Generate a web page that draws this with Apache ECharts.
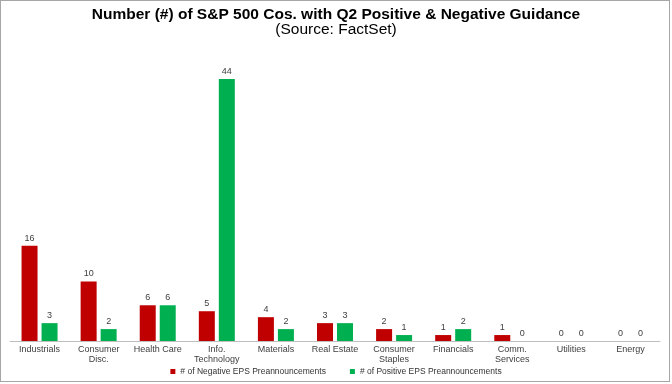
<!DOCTYPE html>
<html>
<head>
<meta charset="utf-8">
<script src="https://cdn.jsdelivr.net/npm/echarts@6/dist/echarts.min.js"></script>
<style>
  html, body { margin: 0; padding: 0; background: #fff; }
  #frame { position: absolute; left: 0; top: 0; width: 668px; height: 380px; border: 1px solid #a6a6a6; }
  #chart { position: absolute; left: 0; top: 0; width: 672px; height: 384px; }
</style>
</head>
<body>
<div id="frame"></div>
<div id="chart"></div>
<script>
const categories = ['Industrials', 'Consumer\nDisc.', 'Health Care', 'Info.\nTechnology', 'Materials',
  'Real Estate', 'Consumer\nStaples', 'Financials', 'Comm.\nServices', 'Utilities', 'Energy'];
const negativeEps = [16, 10, 6, 5, 4, 3, 2, 1, 1, 0, 0];
const positiveEps = [3, 2, 6, 44, 2, 3, 1, 2, 0, 0, 0];

const font = 'Arial, "Liberation Sans", sans-serif';
const chart = echarts.init(document.getElementById('chart'));

const valueLabel = {
  show: true,
  position: 'top',
  distance: 3,
  fontSize: 9,
  fontFamily: font,
  color: '#404040'
};

chart.setOption({
  animation: false,
  title: {
    text: 'Number (#) of S&P 500 Cos. with Q2 Positive & Negative Guidance',
    subtext: '(Source: FactSet)',
    left: 'center',
    top: 2,
    itemGap: -1,
    textStyle: { fontFamily: font, fontSize: 15.5, fontWeight: 'bold', color: '#000' },
    subtextStyle: { fontFamily: font, fontSize: 15.5, color: '#000' }
  },
  legend: {
    bottom: 3,
    left: 'center',
    itemWidth: 5,
    itemHeight: 5,
    itemGap: 24,
    icon: 'rect',
    textStyle: { fontFamily: font, fontSize: 8.5, color: '#333' },
    data: ['# of Negative EPS Preannouncements', '# of Positive EPS Preannouncements']
  },
  grid: { left: 10, right: 12, top: 79, bottom: 43 },
  xAxis: {
    type: 'category',
    data: categories,
    axisLine: { lineStyle: { color: '#bfbfbf', width: 1 } },
    axisTick: { show: false },
    axisLabel: {
      interval: 0,
      margin: 4,
      fontFamily: font,
      fontSize: 9,
      lineHeight: 10,
      color: '#404040'
    }
  },
  yAxis: {
    type: 'value',
    min: 0,
    max: 44,
    show: false,
    splitLine: { show: false }
  },
  series: [
    {
      name: '# of Negative EPS Preannouncements',
      type: 'bar',
      data: negativeEps,
      barWidth: 16,
      barGap: '25%',
      itemStyle: { color: '#c00000' },
      label: valueLabel
    },
    {
      name: '# of Positive EPS Preannouncements',
      type: 'bar',
      data: positiveEps,
      barWidth: 16,
      barGap: '25%',
      itemStyle: { color: '#00b050' },
      label: valueLabel
    }
  ]
});
</script>
</body>
</html>
